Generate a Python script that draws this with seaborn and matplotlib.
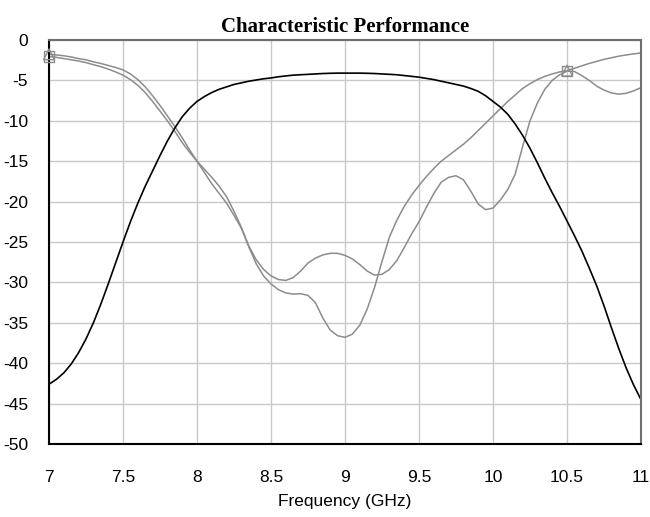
import numpy as np
import pandas as pd
import matplotlib
matplotlib.use("Agg")
import matplotlib.pyplot as plt
import seaborn as sns

freq = [7.0, 7.05, 7.1, 7.15, 7.2, 7.25, 7.3, 7.35, 7.4, 7.45,
        7.5, 7.55, 7.6, 7.65, 7.7, 7.75, 7.8, 7.85, 7.9, 7.95,
        8.0, 8.05, 8.1, 8.15, 8.2, 8.25, 8.3, 8.35, 8.4, 8.45,
        8.5, 8.55, 8.6, 8.65, 8.7, 8.75, 8.8, 8.85, 8.9, 8.95,
        9.0, 9.05, 9.1, 9.15, 9.2, 9.25, 9.3, 9.35, 9.4, 9.45,
        9.5, 9.55, 9.6, 9.65, 9.7, 9.75, 9.8, 9.85, 9.9, 9.95,
        10.0, 10.05, 10.1, 10.15, 10.2, 10.25, 10.3, 10.35, 10.4, 10.45,
        10.5, 10.55, 10.6, 10.65, 10.7, 10.75, 10.8, 10.85, 10.9, 10.95,
        11.0]

s21 = [-42.6, -42.0, -41.2, -40.1, -38.7, -37.0, -35.0, -32.7, -30.2, -27.6,
       -25.0, -22.5, -20.2, -18.1, -16.2, -14.3, -12.5, -10.9, -9.5, -8.45,
       -7.6, -7.0, -6.5, -6.1, -5.8, -5.5, -5.3, -5.1, -4.95, -4.8,
       -4.7, -4.55, -4.45, -4.35, -4.3, -4.25, -4.2, -4.15, -4.12, -4.1,
       -4.1, -4.1, -4.1, -4.12, -4.15, -4.2, -4.25, -4.3, -4.4, -4.5,
       -4.6, -4.75, -4.9, -5.1, -5.3, -5.5, -5.7, -6.0, -6.35, -6.9,
       -7.6, -8.3, -9.2, -10.4, -11.8, -13.4, -15.2, -17.1, -18.9, -20.6,
       -22.4, -24.2, -26.1, -28.2, -30.4, -32.9, -35.6, -38.2, -40.6, -42.7,
       -44.5]

s11 = [-2.05, -2.15, -2.3, -2.45, -2.6, -2.8, -3.05, -3.3, -3.6, -3.95,
       -4.35, -4.9, -5.6, -6.5, -7.6, -8.8, -10.0, -11.3, -12.7, -13.9,
       -15.0, -16.0, -17.0, -18.1, -19.4, -21.2, -23.2, -25.5, -27.2, -28.4,
       -29.2, -29.65, -29.75, -29.4, -28.6, -27.6, -27.0, -26.6, -26.4, -26.4,
       -26.65, -27.1, -27.8, -28.6, -29.1, -29.0, -28.4, -27.3, -25.7, -24.0,
       -22.5, -20.7, -19.0, -17.6, -17.0, -16.8, -17.3, -18.7, -20.3, -21.0,
       -20.8, -19.8, -18.5, -16.6, -13.2, -10.0, -7.8, -6.1, -5.0, -4.3,
       -3.85, -3.9, -4.4, -5.0, -5.7, -6.2, -6.55, -6.7, -6.6, -6.3,
       -5.9]

s22 = [-1.77, -1.85, -1.95, -2.1, -2.3, -2.45, -2.7, -2.9, -3.15, -3.4,
       -3.7, -4.2, -4.9, -5.8, -6.9, -8.1, -9.4, -10.7, -12.1, -13.6,
       -15.0, -16.4, -17.8, -19.0, -20.2, -21.7, -23.3, -25.6, -27.7, -29.2,
       -30.2, -30.9, -31.3, -31.45, -31.4, -31.6, -32.5, -34.4, -35.9, -36.6,
       -36.8, -36.4, -35.3, -33.3, -30.6, -27.4, -24.4, -22.3, -20.6, -19.2,
       -18.0, -16.9, -15.9, -15.0, -14.3, -13.6, -12.9, -12.1, -11.2, -10.3,
       -9.4, -8.5, -7.6, -6.8, -6.0, -5.4, -4.9, -4.5, -4.2, -3.95,
       -3.8, -3.5, -3.2, -2.9, -2.65, -2.4, -2.2, -2.0, -1.85, -1.72,
       -1.6]

marker_freq = [7.0, 10.5]

x_ticks = [7, 7.5, 8, 8.5, 9, 9.5, 10, 10.5, 11]
x_tick_labels = ["7", "7.5", "8", "8.5", "9", "9.5", "10", "10.5", "11"]
y_ticks = [0, -5, -10, -15, -20, -25, -30, -35, -40, -45, -50]
y_tick_labels = ["0", "-5", "-10", "-15", "-20", "-25", "-30", "-35", "-40", "-45", "-50"]

title = "Characteristic Performance"
x_label = "Frequency (GHz)"

sns.set_theme(style="whitegrid")
plt.rcParams['font.family'] = ['Liberation Sans', 'DejaVu Sans']

df = pd.DataFrame({"freq": freq, "S21": s21, "S11": s11, "S22": s22})

fig = plt.figure(figsize=(6.5, 5.17), dpi=100)
ax = fig.add_axes([49/650, 1-444/517, (641-49)/650, (444-40)/517])
ax.set_facecolor("white")

gray = "#8c8c8c"
sns.lineplot(data=df, x="freq", y="S11", ax=ax, color=gray, lw=1.1, estimator=None, sort=False)
sns.lineplot(data=df, x="freq", y="S22", ax=ax, color=gray, lw=1.1, estimator=None, sort=False)
sns.lineplot(data=df, x="freq", y="S21", ax=ax, color="black", lw=1.2, estimator=None, sort=False)

mk = df[df["freq"].isin(marker_freq)]
sns.scatterplot(data=mk, x="freq", y="S11", ax=ax, marker="s", s=60,
                facecolor="none", edgecolor=gray, linewidth=1.0, zorder=5, clip_on=False)
sns.scatterplot(data=mk, x="freq", y="S22", ax=ax, marker="^", s=60,
                facecolor="none", edgecolor=gray, linewidth=1.0, zorder=5, clip_on=False)

ax.set_xlim(7, 11)
ax.set_ylim(-50, 0)
ax.set_xticks(x_ticks)
ax.set_xticklabels(x_tick_labels)
ax.set_yticks(y_ticks)
ax.set_yticklabels(y_tick_labels)
ax.tick_params(axis="both", length=0, labelsize=12.5, colors="black")
ax.tick_params(axis="x", pad=19)
ax.tick_params(axis="y", pad=15)
ax.grid(True, color="#c8c8c8", lw=1.0)

ax.set_xlabel(x_label, fontsize=12.5, color="black", labelpad=6)
ax.set_ylabel("")
ax.set_title(title, fontsize=15, fontweight="bold", family=["Liberation Serif", "DejaVu Serif"],
             color="black", pad=6)

for side in ["left", "bottom"]:
    ax.spines[side].set_color("black")
    ax.spines[side].set_linewidth(1.5)
for side in ["top", "right"]:
    ax.spines[side].set_color("#6e6e6e")
    ax.spines[side].set_linewidth(1.5)

fig.savefig("out.png", dpi=100)
